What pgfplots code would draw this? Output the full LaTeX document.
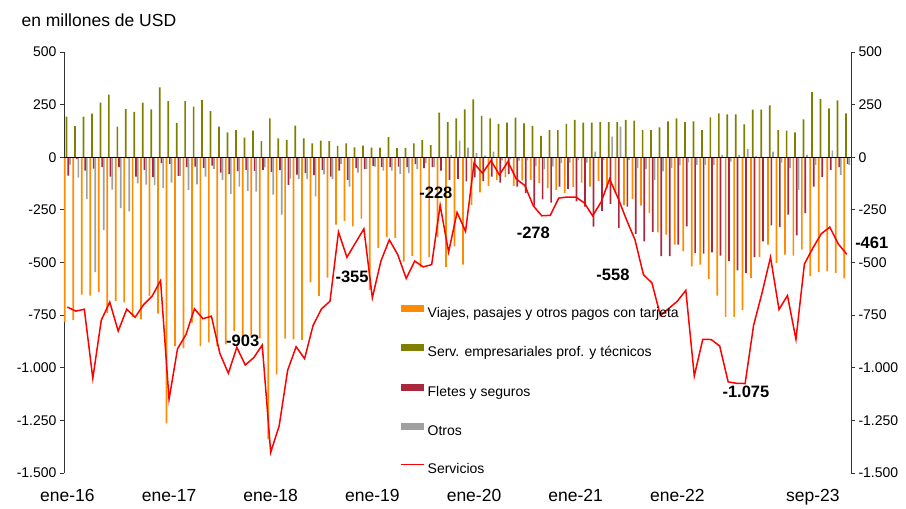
\documentclass[border=0pt]{standalone}
\usepackage{fontspec}
\setmainfont{Liberation Sans}
\usepackage{pgfplots}
\usepackage{pgfplotstable}
\pgfplotsset{compat=1.18}

\definecolor{cOr}{RGB}{255,140,0}
\definecolor{cGr}{RGB}{128,128,0}
\definecolor{cRd}{RGB}{170,40,60}
\definecolor{cGy}{RGB}{160,160,160}
\definecolor{cLn}{RGB}{255,0,0}
\newcommand\fs{\fontsize{14pt}{16pt}\selectfont}
\newcommand\fx{\fontsize{17.5pt}{19pt}\selectfont}
\newcommand\fsb{\fontsize{16.5pt}{18pt}\selectfont\bfseries}

% m = month index from ene-16
\pgfplotstableread{
m via serv flet otro tot
0 -783 193 -87 -35 -712
1 -774 148 -8 -97 -731
2 -653 193 -63 -199 -722
3 -657 207 -54 -546 -1050
4 -641 260 -47 -346 -774
5 -739 297 -92 -154 -688
6 -682 145 -47 -242 -826
7 -689 229 -5 -257 -722
8 -760 216 -92 -124 -760
9 -770 260 -60 -130 -700
10 -660 227 -95 -132 -660
11 -743 332 -28 -147 -586
12 -1264 267 -32 -121 -1150
13 -897 163 -88 -88 -910
14 -907 267 -47 -155 -842
15 -786 240 -45 -129 -720
16 -897 272 -50 -92 -767
17 -879 219 -40 -55 -755
18 -897 145 -73 -107 -932
19 -889 118 -80 -175 -1026
20 -826 129 -66 -140 -903
21 -860 93 -60 -160 -987
22 -850 126 -65 -163 -952
23 -860 76 -60 -48 -892
24 -1340 185 -70 -177 -1402
25 -1032 90 -61 -273 -1276
26 -862 82 -131 -101 -1012
27 -865 150 -82 -103 -900
28 -868 90 -75 -104 -957
29 -594 66 -85 -186 -799
30 -658 79 -60 -81 -720
31 -572 77 -92 -104 -684
32 -320 54 -63 -32 -355
33 -302 66 -107 -139 -475
34 -328 47 -52 -73 -407
35 -292 55 -57 -57 -340
36 -630 46 -41 -44 -668
37 -430 46 -47 -63 -494
38 -380 96 -47 -63 -392
39 -383 43 -44 -79 -463
40 -496 43 -47 -76 -576
41 -469 66 -33 -57 -493
42 -523 82 -52 -28 -521
43 -474 58 -47 -47 -510
44 -380 212 -63 3 -228
45 -521 167 -107 11 -450
46 -423 185 -103 79 -262
47 -510 227 -115 46 -352
48 -226 275 -96 19 -28
49 -167 196 -113 8 -76
50 -136 185 -92 27 -16
51 -107 158 -120 -15 -84
52 -95 164 -80 -10 -21
53 -136 188 -140 -16 -104
54 -110 161 -170 -15 -134
55 -107 148 -230 -42 -231
56 -123 101 -200 -56 -278
57 -147 129 -215 -43 -276
58 -155 129 -140 -28 -194
59 -171 158 -150 -26 -189
60 -142 177 -210 -14 -189
61 -120 164 -235 -25 -216
62 -139 164 -330 27 -278
63 -112 167 -255 -13 -213
64 -147 167 -222 98 -104
65 -170 167 -335 145 -194
66 -226 177 -235 -13 -297
67 -199 174 -365 -52 -392
68 -230 129 -400 -57 -558
69 -265 129 -354 -107 -597
70 -357 142 -470 -67 -752
71 -368 170 -470 -50 -718
72 -415 185 -415 -39 -684
73 -447 167 -328 -24 -632
74 -518 170 -455 -36 -1039
75 -510 129 -458 -36 -865
76 -578 189 -452 -36 -866
77 -657 208 -467 11 -897
78 -758 204 -494 -21 -1067
79 -758 204 -537 11 -1074
80 -726 156 -550 39 -1075
81 -573 226 -475 6 -799
82 -474 226 -400 0 -644
83 -415 246 -324 27 -475
84 -502 129 -332 -25 -723
85 -463 126 -273 -52 -657
86 -467 118 -371 -155 -865
87 -439 180 -265 11 -507
88 -565 309 -139 -36 -431
89 -546 276 -95 0 -363
90 -542 232 -60 32 -332
91 -549 270 -47 -84 -412
92 -576 208 -32 -36 -461
}\data

\pgfplotsset{
  base/.style={
    scale only axis, width=787pt, height=421pt,
    xmin=-0.4, xmax=92.5, ymin=-1500, ymax=500,
    ytick={-1500,-1250,...,500},
    tick align=outside, major tick length=4pt,
    y axis line style={draw=black!80, line width=0.8pt},
    major y tick style={draw=black!80, line width=0.8pt},
    ticklabel style={font=\fs},
    yticklabel style={/pgf/number format/1000 sep={.}, /pgf/number format/assume math mode=true},
  },
  barleg/.style={legend image code/.code={\fill[#1] (0pt,1.5pt) rectangle (23pt,8.5pt);}},
}

\begin{document}
\begin{tikzpicture}
\begin{axis}[base,
  axis y line*=left, axis x line*=bottom,
  x axis line style={draw=none},
  xtick={0,12,24,36,48,60,72,88},
  xticklabels={ene-16,ene-17,ene-18,ene-19,ene-20,ene-21,ene-22,sep-23},
  major x tick style={draw=none},
  xticklabel style={font=\fx, yshift=-9pt},
  clip=false,
  legend cell align=left,
  legend style={draw=none, fill=none, inner sep=0pt, font=\fs,
    at={(axis cs:39.26,-700)}, anchor=north west,
    row sep=23.9pt, column sep=3pt,
    nodes={inner sep=0pt, text height=11pt, text depth=3pt}},
]
\addplot[ybar, bar width=0.2, bar shift=-0.3, fill=cOr, draw=none, barleg=cOr] table[x=m, y=via] {\data};
\addlegendentry{Viajes, pasajes y otros pagos con tarjeta}
\addplot[ybar, bar width=0.2, bar shift=-0.1, fill=cGr, draw=none, barleg=cGr] table[x=m, y=serv] {\data};
\addlegendentry{Serv. empresariales prof. y técnicos}
\addplot[ybar, bar width=0.2, bar shift=0.1, fill=cRd, draw=none, barleg=cRd] table[x=m, y=flet] {\data};
\addlegendentry{Fletes y seguros}
\addplot[ybar, bar width=0.2, bar shift=0.3, fill=cGy, draw=none, barleg=cGy] table[x=m, y=otro] {\data};
\addlegendentry{Otros}
\draw[black, line width=1.1pt] (axis cs:-0.4,0) -- (axis cs:92.5,0);
\addplot[cLn, line width=1.5pt, mark=none,
  legend image code/.code={\draw[cLn, line width=1.5pt] (0pt,5pt) -- (23pt,5pt);}] table[x=m, y=tot] {\data};
\addlegendentry{Servicios}
\node[font=\fsb] at (axis cs:20.7,-870) {-903};
\node[font=\fsb] at (axis cs:33.6,-567) {-355};
\node[font=\fsb] at (axis cs:43.5,-170) {-228};
\node[font=\fsb] at (axis cs:55,-358) {-278};
\node[font=\fsb] at (axis cs:64.4,-557) {-558};
\node[font=\fsb] at (axis cs:80.1,-1116) {-1.075};
\node[font=\fsb] at (axis cs:94.95,-406) {-461};
\end{axis}
\begin{axis}[base,
  axis y line*=right, axis x line=none,
]
\addplot[draw=none, forget plot] coordinates {(0,0)};
\end{axis}
\node[anchor=west, font=\fx] at ([xshift=-46pt, yshift=32pt]current axis.north west) {en millones de USD};
\path ([xshift=-64pt, yshift=-36pt]current axis.south west) rectangle ++(906pt,509pt);
\end{tikzpicture}
\end{document}
